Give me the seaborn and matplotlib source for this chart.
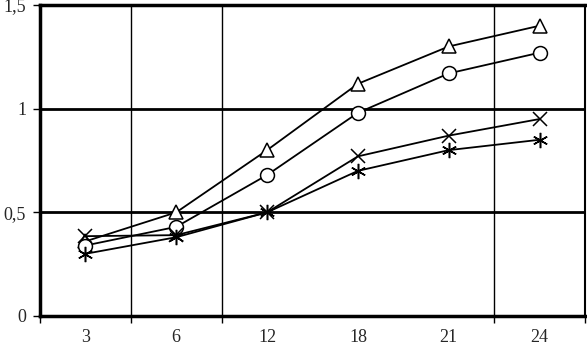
import matplotlib
matplotlib.use("Agg")
import matplotlib.pyplot as plt
import seaborn as sns
import pandas as pd
import numpy as np
from matplotlib.ticker import FixedLocator

categories = ["3", "6", "12", "18", "21", "24"]
tri_vals = [0.36, 0.50, 0.80, 1.12, 1.30, 1.40]
circ_vals = [0.34, 0.43, 0.68, 0.98, 1.17, 1.27]
cross_vals = [0.385, 0.39, 0.50, 0.77, 0.87, 0.95]
star_vals = [0.30, 0.38, 0.50, 0.70, 0.80, 0.85]
ytick_vals = [0, 0.5, 1, 1.5]
ytick_labels = ["0", "0,5", "1", "1,5"]

series = {"tri": tri_vals, "circ": circ_vals, "cross": cross_vals, "star": star_vals}
rows = []
for name, vals in series.items():
    for c, v in zip(categories, vals):
        rows.append({"x": c, "y": v, "s": name})
df = pd.DataFrame(rows)

sns.set_style("white")
plt.rcParams["font.family"] = ["Liberation Serif", "DejaVu Serif"]

fig = plt.figure(figsize=(5.87, 3.45), dpi=100)
ax = fig.add_axes([40/587, 29/345, 545/587, 311/345])

styles = {
    "tri": dict(marker="^", mfc="white", ms=10),
    "circ": dict(marker="o", mfc="white", ms=10),
    "cross": dict(marker="x", mfc="black", ms=10),
    "star": dict(marker=(6, 2, 0), mfc="black", ms=11),
}
for name in series:
    sub = df[df["s"] == name]
    st = styles[name]
    sns.lineplot(data=sub, x="x", y="y", ax=ax, color="black", lw=1.3,
                 marker=st["marker"], markersize=st["ms"],
                 markerfacecolor=st["mfc"], markeredgecolor="black",
                 markeredgewidth=1.1, legend=False, sort=False, zorder=3)

ax.set_xlim(-0.5, 5.5)
ax.set_ylim(0, 1.5)
ax.set_xlabel("")
ax.set_ylabel("")

for y in [0.5, 1.0]:
    ax.axhline(y, color="black", lw=2, zorder=1)
for xv in [0.5, 1.5, 4.5]:
    ax.axvline(xv, color="black", lw=1, zorder=1)

ax.set_yticks(ytick_vals)
ax.set_yticklabels(ytick_labels, fontsize=13)
ax.set_xticks(range(len(categories)))
ax.set_xticklabels(categories, fontsize=13)
ax.xaxis.set_minor_locator(FixedLocator([-0.5, 0.5, 1.5, 4.5, 5.5]))
ax.tick_params(axis="x", which="major", length=0, pad=9)
ax.tick_params(axis="x", which="minor", length=5, width=1, direction="out", color="black")
ax.tick_params(axis="y", which="major", length=5, width=1, direction="out", color="black", pad=5)
ax.tick_params(bottom=True, left=True, which="both")

for side, sp in ax.spines.items():
    sp.set_color("black")
    sp.set_linewidth(2.5)
ax.spines["right"].set_linewidth(1.5)

fig.savefig("out.png", dpi=100)
